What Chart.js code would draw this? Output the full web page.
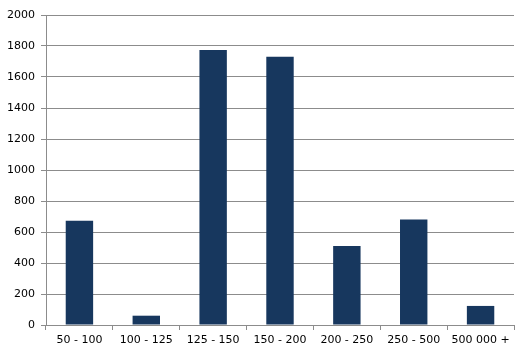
<!DOCTYPE html>
<html>
<head>
<meta charset="utf-8">
<script src="https://cdn.jsdelivr.net/npm/chart.js@4/dist/chart.umd.min.js"></script>
<style>
html,body{margin:0;padding:0;background:#fff;}
#wrap{width:526px;height:358px;position:relative;}
</style>
</head>
<body>
<div id="wrap"><canvas id="c" width="526" height="358"></canvas></div>
<script>
const categories = ["50 - 100", "100 - 125", "125 - 150", "150 - 200", "200 - 250", "250 - 500", "500 000 +"];
const counts = [673, 60, 1775, 1730, 510, 680, 123];
const yTicks = [0, 200, 400, 600, 800, 1000, 1200, 1400, 1600, 1800, 2000];

const gridColor = '#8c8c8c';
new Chart(document.getElementById('c'), {
  type: 'bar',
  data: {
    labels: categories,
    datasets: [{
      data: counts,
      backgroundColor: '#17375E',
      borderWidth: 0,
      categoryPercentage: 0.41,
      barPercentage: 1.0
    }]
  },
  options: {
    responsive: false,
    animation: false,
    devicePixelRatio: 1,
    layout: { padding: { top: 15, right: 12, left: 0, bottom: 0 } },
    plugins: { legend: { display: false }, tooltip: { enabled: false } },
    scales: {
      x: {
        grid: { offset: true, drawOnChartArea: false, drawTicks: true, tickLength: 5, color: gridColor, lineWidth: 1 },
        border: { display: true, color: gridColor, width: 1 },
        ticks: { color: '#000', font: { family: 'DejaVu Sans', size: 11 }, padding: 4, maxRotation: 0, autoSkip: false },
        afterFit: s => { s.height = 33; }
      },
      y: {
        min: 0, max: 2000,
        afterBuildTicks: s => { s.ticks = yTicks.map(v => ({ value: v })); },
        grid: { color: gridColor, lineWidth: 1, drawTicks: true, tickLength: 5 },
        border: { display: true, color: gridColor, width: 1 },
        ticks: { color: '#000', font: { family: 'DejaVu Sans', size: 11 }, padding: 6, callback: v => String(v) },
        afterFit: s => { s.width = 46; }
      }
    }
  }
});
</script>
</body>
</html>
